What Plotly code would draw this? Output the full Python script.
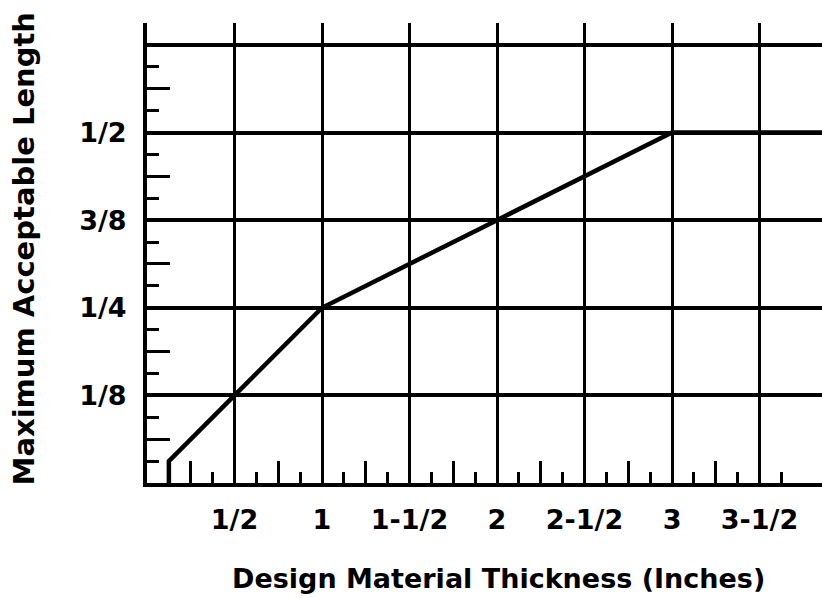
import plotly.graph_objects as go

# Data
thickness = [0.125, 0.125, 0.5, 1.0, 2.0, 3.0, 4.0]
max_length = [0.0, 1/32, 0.125, 0.25, 0.375, 0.5, 0.5]

x_tick_vals = [0.5, 1.0, 1.5, 2.0, 2.5, 3.0, 3.5]
x_tick_text = ["1/2", "1", "1-1/2", "2", "2-1/2", "3", "3-1/2"]
x_quarter_ticks = [0.25, 0.75, 1.25, 1.75, 2.25, 2.75, 3.25]
x_eighth_ticks = [0.125, 0.375, 0.625, 0.875, 1.125, 1.375, 1.625, 1.875,
                  2.125, 2.375, 2.625, 2.875, 3.125, 3.375, 3.625]

y_tick_vals = [0.125, 0.25, 0.375, 0.5, 0.625]
y_tick_text = ["1/8", "1/4", "3/8", "1/2", ""]
y_sixteenth_ticks = [1/16, 3/16, 5/16, 7/16, 9/16]
y_thirtysecond_ticks = [1/32, 3/32, 5/32, 7/32, 9/32, 11/32, 13/32, 15/32,
                        17/32, 19/32, 21/32]

x_range = [0, 3.857]
y_range = [0, 21/32]

FONT = "DejaVu Sans"

fig = go.Figure()
fig.add_trace(go.Scatter(x=thickness, y=max_length, mode="lines",
                         line=dict(color="black", width=4.5),
                         hoverinfo="skip", showlegend=False))
fig.add_trace(go.Scatter(x=[None], y=[None], xaxis="x2", yaxis="y2",
                         mode="lines", hoverinfo="skip", showlegend=False))

fig.update_layout(
    width=822, height=598,
    margin=dict(l=147, r=0, t=23, b=115),
    paper_bgcolor="white", plot_bgcolor="white",
    showlegend=False,
    xaxis=dict(range=x_range, tickmode="array", tickvals=x_tick_vals,
               ticktext=x_tick_text, showgrid=True, gridcolor="black",
               gridwidth=3, zeroline=False, showline=True, linecolor="black",
               linewidth=4, ticks="inside", ticklen=22, tickwidth=3,
               tickcolor="black", ticklabelstandoff=10,
               tickfont=dict(family=FONT, size=27, color="black", weight="bold"),
               minor=dict(tickmode="array", tickvals=x_quarter_ticks,
                          ticks="inside", ticklen=22, tickwidth=3,
                          tickcolor="black", showgrid=False),
               fixedrange=True),
    yaxis=dict(range=y_range, tickmode="array", tickvals=y_tick_vals,
               ticktext=y_tick_text, showgrid=True, gridcolor="black",
               gridwidth=4, zeroline=False, showline=True, linecolor="black",
               linewidth=4, ticks="inside", ticklen=23, tickwidth=3,
               tickcolor="black", ticklabelstandoff=11,
               tickfont=dict(family=FONT, size=27, color="black", weight="bold"),
               minor=dict(tickmode="array", tickvals=y_sixteenth_ticks,
                          ticks="inside", ticklen=23, tickwidth=3,
                          tickcolor="black", showgrid=False),
               fixedrange=True),
    xaxis2=dict(range=x_range, overlaying="x", anchor="y", side="bottom",
                tickmode="array", tickvals=x_eighth_ticks, ticks="inside",
                ticklen=11, tickwidth=3, tickcolor="black",
                showticklabels=False, showgrid=False, zeroline=False,
                showline=False, fixedrange=True),
    yaxis2=dict(range=y_range, overlaying="y", anchor="x", side="left",
                tickmode="array", tickvals=y_thirtysecond_ticks, ticks="inside",
                ticklen=12, tickwidth=3, tickcolor="black",
                showticklabels=False, showgrid=False, zeroline=False,
                showline=False, fixedrange=True),
    annotations=[
        dict(text="Design Material Thickness (Inches)", xref="paper",
             yref="paper", x=0.52, y=-0.207, xanchor="center",
             yanchor="middle", showarrow=False,
             font=dict(family=FONT, size=27, color="black", weight="bold")),
        dict(text="Maximum Acceptable Length", xref="paper", yref="paper",
             x=-0.182, y=0.508, xanchor="center", yanchor="middle",
             textangle=-90, showarrow=False,
             font=dict(family=FONT, size=29, color="black", weight="bold")),
    ],
)

fig.write_html("out.html", config={"displayModeBar": False},
               post_script="document.body.style.margin='0';")
